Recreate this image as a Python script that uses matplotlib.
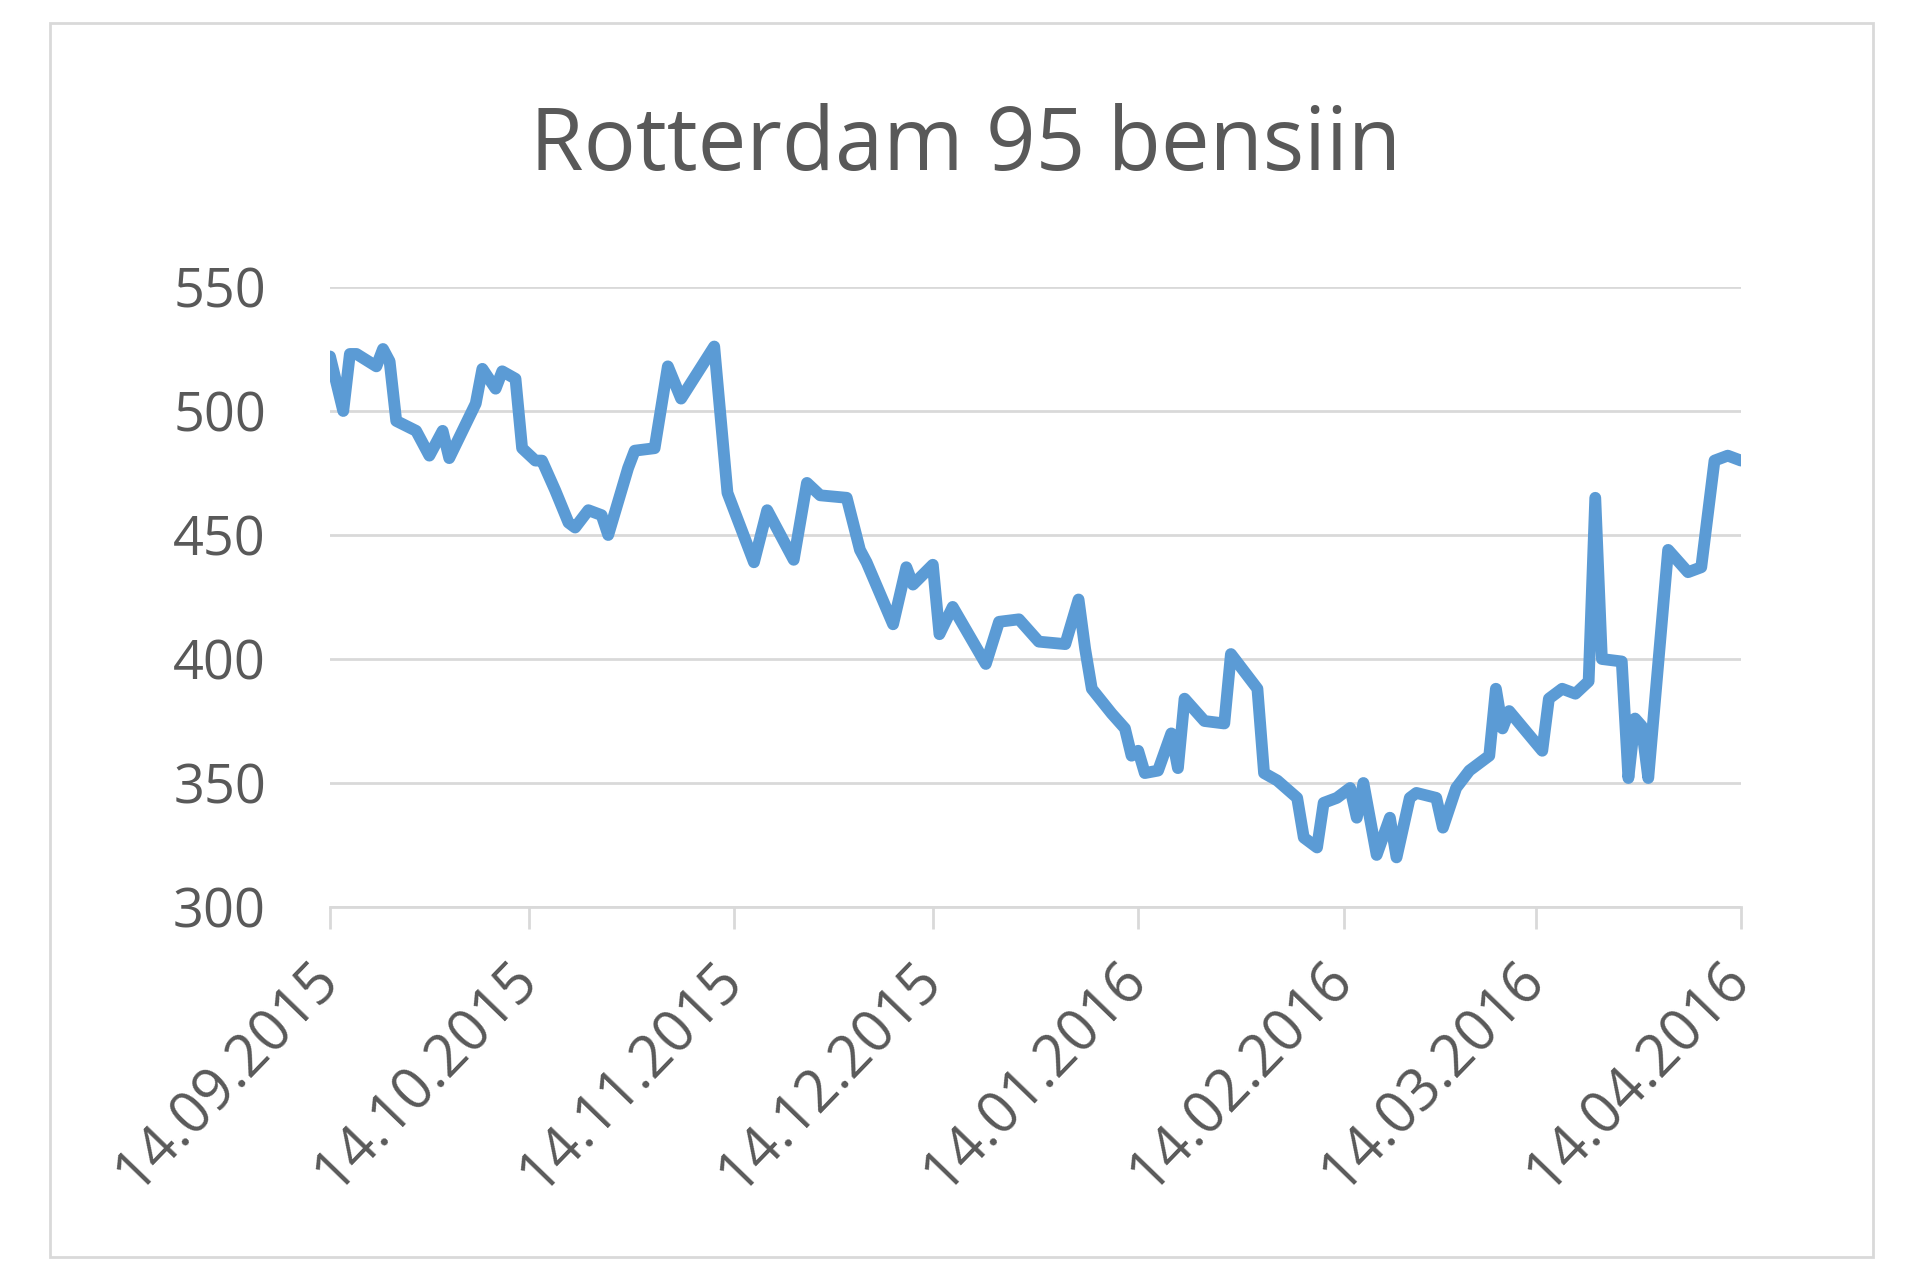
import datetime as dt
import matplotlib
matplotlib.use("Agg")
import matplotlib.pyplot as plt
import matplotlib.dates as mdates
from matplotlib.patches import Rectangle

plt.rcParams['font.family'] = ['Open Sans', 'DejaVu Sans']

start = dt.date(2015, 9, 14)
# days after 14.09.2015 and price
days = [0, 2, 3, 4, 7, 8, 9, 10, 13, 15, 17, 18, 20, 22, 23, 25, 26, 28, 29,
        31, 32, 34, 36, 37, 39, 41, 42, 45, 46, 49, 51, 53, 58, 60, 64, 66,
        70, 72, 74, 78, 80, 81, 85, 87, 88, 91, 92, 94, 99, 101, 104, 107,
        111, 113, 114, 115, 118, 120, 121, 122, 123, 125, 127, 128, 129, 132,
        135, 136, 140, 141, 143, 146, 147, 149, 150, 152, 154, 155, 156, 158,
        160, 161, 163, 164, 167, 168, 170, 172, 175, 176, 177, 178, 183, 184,
        186, 188, 190, 191, 192, 195, 196, 197, 198, 199, 202, 205, 207, 209,
        211, 213]
price = [522, 500, 523, 523, 518, 525, 520, 496, 492, 482, 492, 481, 492, 503,
         517, 509, 516, 513, 485, 480, 480, 468, 455, 453, 460, 458, 450, 477,
         484, 485, 518, 505, 526, 467, 439, 460, 440, 471, 466, 465, 444, 439,
         414, 437, 430, 438, 410, 421, 398, 415, 416, 407, 406, 424, 404, 388,
         378, 372, 361, 363, 354, 355, 370, 356, 384, 375, 374, 402, 388, 354,
         351, 344, 328, 324, 342, 344, 348, 336, 350, 321, 336, 320, 344, 346,
         344, 332, 348, 355, 361, 388, 372, 379, 363, 384, 388, 386, 391, 465,
         400, 399, 352, 376, 373, 352, 444, 435, 437, 480, 482, 480]
tick_dates = ["14.09.2015", "14.10.2015", "14.11.2015", "14.12.2015",
              "14.01.2016", "14.02.2016", "14.03.2016", "14.04.2016"]
title = "Rotterdam 95 bensiin"

dates = [start + dt.timedelta(days=d) for d in days]
ticks = [dt.datetime.strptime(s, "%d.%m.%Y").date() for s in tick_dates]

fig = plt.figure(figsize=(19.2, 12.65), dpi=100)
fig.patches.append(Rectangle((50 / 1920, 1 - 1257 / 1265), (1873 - 50) / 1920,
                             (1257 - 23) / 1265, transform=fig.transFigure,
                             fill=False, edgecolor="#d9d9d9", linewidth=2))

ax = fig.add_axes([330 / 1920, 1 - 907 / 1265, (1741 - 330) / 1920, (907 - 287) / 1265])
ax.plot(dates, price, color="#5b9bd5", linewidth=8.5, solid_joinstyle="round",
        solid_capstyle="round", zorder=3)

ax.set_ylim(300, 550)
ax.set_yticks([300, 350, 400, 450, 500, 550])
ax.set_xlim(start, start + dt.timedelta(days=213.9))
ax.set_xticks(ticks)
ax.xaxis.set_major_formatter(mdates.DateFormatter("%d.%m.%Y"))
ax.grid(axis="y", color="#d9d9d9", linewidth=2)
ax.set_axisbelow(True)
for s in ["top", "right", "left"]:
    ax.spines[s].set_visible(False)
ax.spines["bottom"].set_color("#d9d9d9")
ax.spines["bottom"].set_linewidth(2)

ax.tick_params(axis="y", length=0, pad=46, labelsize=39, labelcolor="#595959")
ax.tick_params(axis="x", length=16, width=2, color="#d9d9d9", pad=30,
               labelsize=41.5, labelcolor="#595959")
for lab in ax.get_xticklabels():
    lab.set_rotation(46)
    lab.set_ha("right")
    lab.set_va("center")
    lab.set_rotation_mode("anchor")

fig.text(966 / 1920, 1 - 147 / 1265, title, ha="center", va="center",
         fontsize=62.5, color="#595959")

fig.savefig("out.png", dpi=100, facecolor="white")
